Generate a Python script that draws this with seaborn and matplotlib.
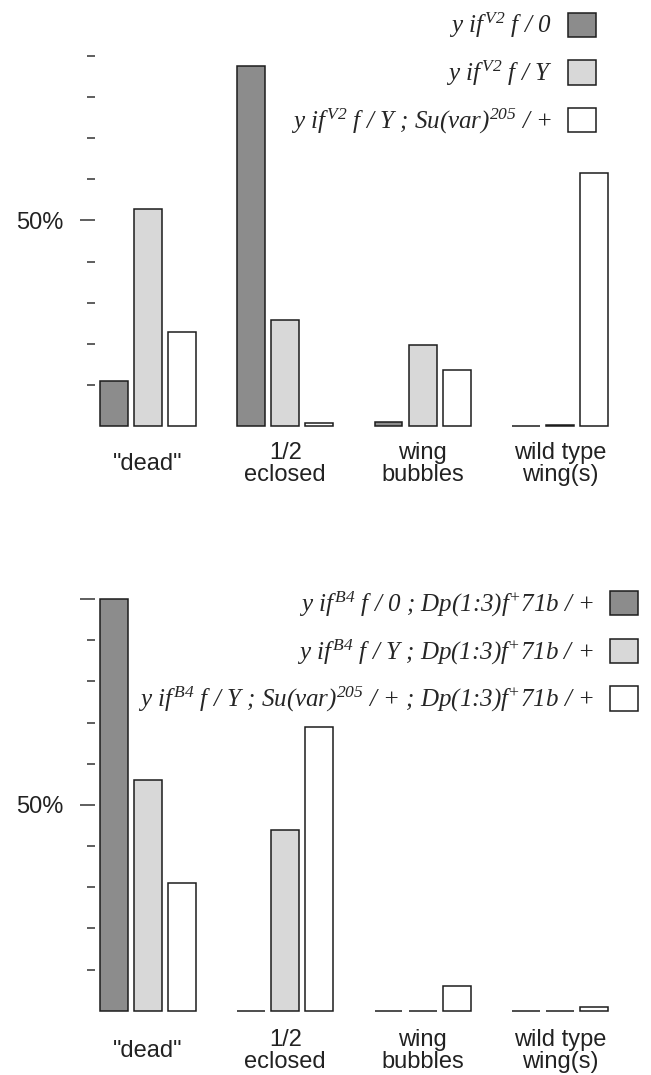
import matplotlib
matplotlib.use("Agg")
import matplotlib.pyplot as plt
from matplotlib.patches import Patch
from matplotlib.font_manager import FontProperties
import seaborn as sns
import pandas as pd

# ---------------- data ----------------
categories = ['"dead"', "1/2\neclosed", "wing\nbubbles", "wild type\nwing(s)"]

top_genotypes = [
    r"y if$^{\,V2}$ f / 0",
    r"y if$^{\,V2}$ f / Y",
    r"y if$^{\,V2}$ f / Y ; Su(var)$^{205}$ / +",
]
top_dark = [11.0, 87.5, 1.0, 0.0]
top_light = [52.8, 25.8, 19.8, 0.4]
top_white = [22.9, 0.9, 13.7, 61.6]

bottom_genotypes = [
    r"y if$^{\,B4}$ f / 0 ; Dp(1:3)f$^{+}$71b / +",
    r"y if$^{\,B4}$ f / Y ; Dp(1:3)f$^{+}$71b / +",
    r"y if$^{\,B4}$ f / Y ; Su(var)$^{205}$ / + ; Dp(1:3)f$^{+}$71b / +",
]
bottom_dark = [100.0, 0.0, 0.0, 0.0]
bottom_light = [56.0, 44.0, 0.0, 0.0]
bottom_white = [31.0, 69.0, 6.0, 1.0]

top_minor = [10, 20, 30, 40, 60, 70, 80, 90]
top_major = [50]
top_major_labels = ["50%"]
bottom_minor = [10, 20, 30, 40, 60, 70, 80, 90]
bottom_major = [50, 100]
bottom_major_labels = ["50%", ""]

colors = ["#8c8c8c", "#d8d8d8", "#ffffff"]
edge = "#1c1c1c"

# ---------------- style ----------------
sns.set_style("white")
plt.rcParams["font.family"] = ["Liberation Sans", "DejaVu Sans"]
plt.rcParams["mathtext.fontset"] = "custom"
plt.rcParams["mathtext.rm"] = "Liberation Serif:italic"
plt.rcParams["mathtext.it"] = "Liberation Serif:italic"
plt.rcParams["mathtext.bf"] = "Liberation Serif:italic:bold"

W, H = 651, 1075
fig = plt.figure(figsize=(W / 100, H / 100), dpi=100)

px_per_pct = 4.117
ymax = 103
left_px, right_px = 95, 645
cat0_px, cat_step = 148, 137.3
leg_size = 18


def make_df(genos, dark, light, white):
    rows = []
    for g, vals in zip(genos, [dark, light, white]):
        for c, v in zip(categories, vals):
            rows.append({"category": c, "genotype": g, "value": v})
    return pd.DataFrame(rows)


def panel(zero_px, genos, dark, light, white, minor, major, major_labels, leg_right_px, leg_top_px, xpad):
    height_px = ymax * px_per_pct
    ax = fig.add_axes([left_px / W, 1 - zero_px / H, (right_px - left_px) / W, height_px / H])
    df = make_df(genos, dark, light, white)
    sns.barplot(data=df, x="category", y="value", hue="genotype",
                order=categories, hue_order=genos, palette=colors,
                edgecolor=edge, linewidth=1.1, width=0.745, gap=0.18,
                errorbar=None, legend=False, saturation=1, ax=ax)
    ax.set_xlim((left_px - cat0_px) / cat_step, (right_px - cat0_px) / cat_step)
    ax.set_ylim(0, ymax)
    sns.despine(ax=ax, left=True, bottom=True)
    ax.set_xlabel("")
    ax.set_ylabel("")
    ax.set_yticks(major)
    ax.set_yticklabels(major_labels)
    ax.set_yticks(minor, minor=True)
    ax.tick_params(axis="y", which="major", left=True, length=10.5, width=1.1,
                   color="#333333", pad=12, labelsize=17, labelcolor="#222222")
    ax.tick_params(axis="y", which="minor", left=True, length=5.8, width=1.1,
                   color="#333333")
    ax.set_xticks(range(len(categories)))
    ax.set_xticklabels(categories)
    ax.tick_params(axis="x", length=0, pad=xpad, labelsize=17, labelcolor="#222222")
    for lbl in ax.get_xticklabels():
        lbl.set_verticalalignment("center")
        lbl.set_linespacing(1.0)
    for b in ax.patches:
        b.set_clip_on(False)

    handles = [Patch(facecolor=c, edgecolor=edge, linewidth=1.1) for c in colors]
    ax.legend(handles, genos, loc="upper right",
              bbox_to_anchor=(leg_right_px / W, 1 - leg_top_px / H),
              bbox_transform=fig.transFigure, frameon=False, markerfirst=False,
              borderpad=0, borderaxespad=0,
              handlelength=20.2 / leg_size, handleheight=20.2 / leg_size,
              handletextpad=11.5 / leg_size, labelspacing=0.74,
              prop=FontProperties(family="Liberation Serif", style="italic", size=leg_size))
    return ax


panel(426.3, top_genotypes, top_dark, top_light, top_white,
      top_minor, top_major, top_major_labels, 596, 11, 27)
panel(1010.7, bottom_genotypes, bottom_dark, bottom_light, bottom_white,
      bottom_minor, bottom_major, bottom_major_labels, 638, 590, 29)

fig.savefig("out.png", dpi=100)
